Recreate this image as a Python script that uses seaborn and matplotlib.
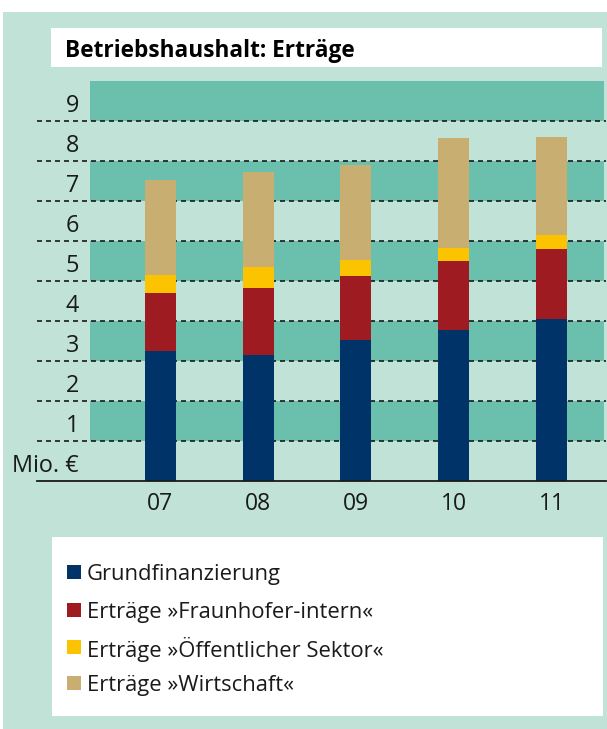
import matplotlib
matplotlib.use("Agg")
import matplotlib.pyplot as plt
from matplotlib.patches import Rectangle
import matplotlib.transforms as mtransforms
import seaborn as sns
import numpy as np
import pandas as pd

# ---- data ----
years = ["07", "08", "09", "10", "11"]
grundfinanzierung = [3.24, 3.14, 3.52, 3.78, 4.04]
fraunhofer_intern = [1.45, 1.68, 1.60, 1.71, 1.75]
oeffentlicher_sektor = [0.45, 0.52, 0.40, 0.34, 0.35]
wirtschaft = [2.38, 2.38, 2.37, 2.74, 2.45]
series_names = ["Grundfinanzierung", "Erträge »Fraunhofer-intern«",
                "Erträge »Öffentlicher Sektor«", "Erträge »Wirtschaft«"]
colors = ["#003469", "#9e1b22", "#fcc300", "#c9ae72"]
y_labels = ["Mio. €", "1", "2", "3", "4", "5", "6", "7", "8", "9"]
title = "Betriebshaushalt: Erträge"

LIGHT = "#c0e2d7"
DARK = "#6bbfad"

sns.set_theme(style="white")
plt.rcParams['font.family'] = ['Open Sans', 'DejaVu Sans']

W, H = 607, 729
fig = plt.figure(figsize=(W / 100, H / 100), dpi=100, facecolor="white")

def fx(px):
    return px / W

def fy(py):
    return 1 - py / H

# green panel
fig.patches.append(Rectangle((fx(3), 0), fx(607) - fx(3), fy(12), transform=fig.transFigure,
                             facecolor=LIGHT, edgecolor="none", zorder=-2))
# title box
fig.patches.append(Rectangle((fx(51), fy(67)), fx(602) - fx(51), fy(28) - fy(67),
                             transform=fig.transFigure, facecolor="white", edgecolor="none", zorder=-1))
fig.text(fx(65), fy(48), title, fontsize=16.3, fontweight="bold", va="center_baseline", ha="left",
         color="black", zorder=2)

# legend box
fig.patches.append(Rectangle((fx(52), fy(715.5)), fx(603) - fx(52), fy(537) - fy(715.5),
                             transform=fig.transFigure, facecolor="white", edgecolor="none", zorder=-1))

# axes
ax_left, ax_right, ax_top, ax_bottom = 37, 606, 80.7, 480.7
ax = fig.add_axes([fx(ax_left), fy(ax_bottom), fx(ax_right) - fx(ax_left), fy(ax_top) - fy(ax_bottom)])
ax.set_zorder(1)
ax.patch.set_alpha(0)

# bands
band_x0 = (90 - ax_left) / (ax_right - ax_left)
band_x1 = (604 - ax_left) / (ax_right - ax_left)
for k in [1, 3, 5, 7, 9]:
    ax.axhspan(k, k + 1, xmin=band_x0, xmax=band_x1, facecolor=DARK, edgecolor="none", zorder=0)
for k in range(1, 10):
    ax.axhline(k, color="#1a1a1a", lw=1.2, ls=(0, (3.0, 2.4)), zorder=1)

# stacked bars via cumulative layers
layers = [grundfinanzierung, fraunhofer_intern, oeffentlicher_sektor, wirtschaft]
cum = np.cumsum(np.array(layers), axis=0)
for i in range(3, -1, -1):
    df = pd.DataFrame({"year": years, "value": cum[i]})
    sns.barplot(data=df, x="year", y="value", color=colors[i], saturation=1, width=0.317,
                ax=ax, zorder=2, linewidth=0, edgecolor="none")

px_per_cat = 97.8
x0 = 160.3
ax.set_xlim((ax_left - x0) / px_per_cat, (ax_right - x0) / px_per_cat)
ax.set_ylim(0, 10)
ax.set_xlabel("")
ax.set_ylabel("")
ax.set_yticks([])
ax.tick_params(axis="x", length=0, pad=8, labelsize=16.5, labelcolor="#1a1a1a")
for s in ["top", "right", "left"]:
    ax.spines[s].set_visible(False)
ax.spines["bottom"].set_color("#1a1a1a")
ax.spines["bottom"].set_linewidth(1.3)

# y labels in the bands
trans = mtransforms.blended_transform_factory(fig.transFigure, ax.transData)
for k, lab in enumerate(y_labels):
    fig.text(fx(79), k + 0.45, lab, transform=trans, fontsize=16.8, ha="right",
             va="center_baseline", color="#1a1a1a")

# legend
leg_y = [572, 610, 647, 683]
for name, c, yy in zip(series_names, colors, leg_y):
    fig.patches.append(Rectangle((fx(67), fy(yy + 7)), fx(81) - fx(67), fy(yy - 7) - fy(yy + 7),
                                 transform=fig.transFigure, facecolor=c, edgecolor="none", zorder=2))
    fig.text(fx(87), fy(yy), name, fontsize=15.8, va="center_baseline", ha="left",
             color="#1a1a1a", zorder=3)

fig.savefig("out.png", dpi=100, facecolor="white")
